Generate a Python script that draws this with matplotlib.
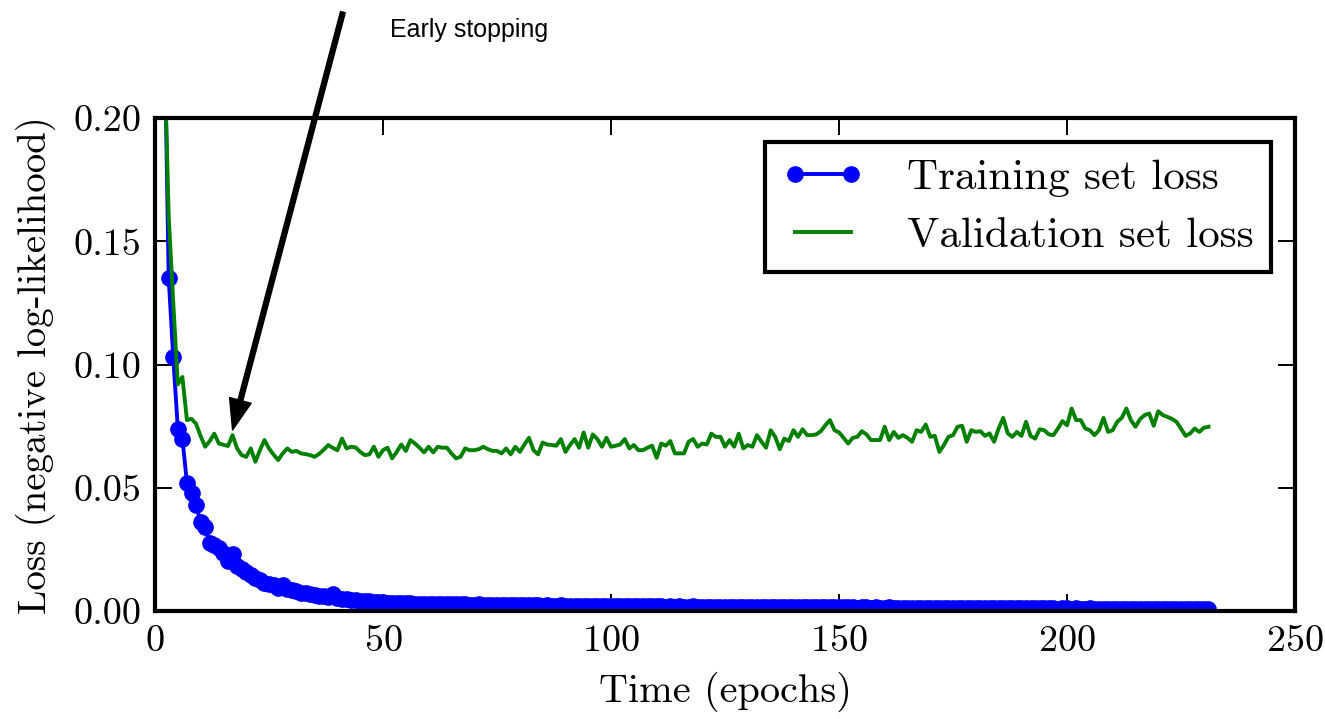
import numpy as np
import matplotlib
matplotlib.use("Agg")
import matplotlib.pyplot as plt

# --- values (one per epoch, epochs 1..231) ---
epochs = list(range(1, 232))

train_loss = [
    0.400, 0.245, 0.135, 0.103, 0.074, 0.070, 0.052, 0.048, 0.043, 0.036,
    0.034, 0.0275, 0.027, 0.0255, 0.0235, 0.0205, 0.023, 0.0185, 0.017, 0.016,
    0.0145, 0.0135, 0.0125, 0.0115, 0.011, 0.0105, 0.0095, 0.0105, 0.009, 0.0085,
    0.008, 0.0075, 0.0072, 0.007, 0.0065, 0.0062, 0.006, 0.0058, 0.0068, 0.0055,
    0.005, 0.0048, 0.0045, 0.0046, 0.0042, 0.004, 0.0042, 0.0038, 0.0036, 0.0037,
    0.0035, 0.0034, 0.0035, 0.0033, 0.0032, 0.0033, 0.0031, 0.0030, 0.0031, 0.0030,
    0.0029, 0.0030, 0.0028, 0.0028, 0.0029, 0.0027, 0.0027, 0.0028, 0.0026, 0.0026,
    0.0027, 0.0025, 0.0026, 0.0025, 0.0024, 0.0025, 0.0024, 0.0024, 0.0025, 0.0023,
    0.0024, 0.0023, 0.0023, 0.0024, 0.0022, 0.0023, 0.0022, 0.0022, 0.0023, 0.0021,
    0.0022, 0.0021, 0.0021, 0.0022, 0.0021, 0.0020, 0.0021, 0.0020, 0.0021, 0.0020,
    0.0020, 0.0020, 0.0019, 0.0020, 0.0019, 0.0020, 0.0019, 0.0019, 0.0020, 0.0019,
    0.0019, 0.0018, 0.0019, 0.0018, 0.0019, 0.0018, 0.0018, 0.0019, 0.0018, 0.0018,
    0.0017, 0.0018, 0.0018, 0.0017, 0.0018, 0.0017, 0.0017, 0.0018, 0.0017, 0.0017,
    0.0017, 0.0016, 0.0017, 0.0017, 0.0016, 0.0017, 0.0016, 0.0016, 0.0017, 0.0016,
    0.0016, 0.0016, 0.0015, 0.0016, 0.0016, 0.0015, 0.0016, 0.0015, 0.0015, 0.0016,
    0.0015, 0.0015, 0.0015, 0.0014, 0.0015, 0.0015, 0.0014, 0.0015, 0.0014, 0.0014,
    0.0015, 0.0014, 0.0014, 0.0014, 0.0013, 0.0014, 0.0014, 0.0013, 0.0014, 0.0013,
    0.0013, 0.0014, 0.0013, 0.0013, 0.0013, 0.0012, 0.0013, 0.0013, 0.0012, 0.0013,
    0.0012, 0.0012, 0.0013, 0.0012, 0.0012, 0.0012, 0.0011, 0.0012, 0.0012, 0.0011,
    0.0012, 0.0011, 0.0011, 0.0012, 0.0011, 0.0011, 0.0011, 0.0010, 0.0011, 0.0011,
    0.0010, 0.0011, 0.0010, 0.0010, 0.0011, 0.0010, 0.0010, 0.0010, 0.0009, 0.0010,
    0.0010, 0.0009, 0.0010, 0.0009, 0.0009, 0.0010, 0.0009, 0.0009, 0.0009, 0.0009,
    0.0009, 0.0008, 0.0009, 0.0009, 0.0008, 0.0009, 0.0008, 0.0008, 0.0009, 0.0008,
    0.0008,
]

valid_loss = [
    0.350, 0.230, 0.160, 0.125, 0.092, 0.095, 0.0775, 0.078, 0.076, 0.071,
    0.0667, 0.069, 0.072, 0.068, 0.0675, 0.067, 0.0714, 0.066, 0.0633, 0.0626,
    0.066, 0.0606, 0.0653, 0.0694, 0.066, 0.0635, 0.0613, 0.064, 0.066, 0.0646,
    0.065, 0.064, 0.0637, 0.0633, 0.0626, 0.0638, 0.0655, 0.0674, 0.0662, 0.0653,
    0.070, 0.066, 0.0667, 0.0664, 0.0646, 0.0633, 0.0636, 0.0667, 0.0626, 0.0653,
    0.0663, 0.062, 0.0646, 0.0676, 0.065, 0.0694, 0.068, 0.0663, 0.0644, 0.0667,
    0.0644, 0.0667, 0.0663, 0.0663, 0.064, 0.062, 0.0626, 0.066, 0.0653, 0.0653,
    0.0657, 0.0667, 0.0657, 0.065, 0.065, 0.064, 0.066, 0.0636, 0.0667, 0.0646,
    0.0676, 0.0703, 0.0653, 0.0636, 0.0684, 0.0676, 0.0674, 0.0671, 0.0698, 0.0646,
    0.0674, 0.0698, 0.0663, 0.0725, 0.0663, 0.0717, 0.0698, 0.0667, 0.0703, 0.0667,
    0.0671, 0.0676, 0.0698, 0.066, 0.0674, 0.0653, 0.0653, 0.0663, 0.0671, 0.0622,
    0.068, 0.0671, 0.069, 0.064, 0.064, 0.064, 0.0687, 0.0698, 0.0667, 0.068,
    0.0676, 0.072, 0.0707, 0.0707, 0.0667, 0.0694, 0.0667, 0.072, 0.066, 0.0674,
    0.0667, 0.0714, 0.0687, 0.0663, 0.0734, 0.0707, 0.0657, 0.070, 0.069, 0.0734,
    0.0707, 0.0738, 0.0714, 0.0714, 0.0717, 0.073, 0.0754, 0.0775, 0.0734, 0.0725,
    0.0703, 0.068, 0.0703, 0.0707, 0.073, 0.0717, 0.0694, 0.0694, 0.0694, 0.0748,
    0.0694, 0.0727, 0.0703, 0.0714, 0.0703, 0.0687, 0.0734, 0.0727, 0.0757, 0.0707,
    0.0711, 0.0646, 0.0674, 0.0707, 0.0714, 0.0748, 0.0752, 0.0687, 0.0734, 0.0727,
    0.073, 0.0711, 0.0721, 0.0687, 0.0741, 0.0784, 0.0721, 0.0707, 0.0727, 0.0711,
    0.0768, 0.0711, 0.070, 0.0738, 0.0734, 0.0717, 0.0714, 0.0741, 0.0771, 0.0754,
    0.0822, 0.0775, 0.0775, 0.0741, 0.0734, 0.0714, 0.0734, 0.0784, 0.0727, 0.0734,
    0.0768, 0.0784, 0.0822, 0.0775, 0.0748, 0.0779, 0.0795, 0.0802, 0.0752, 0.0811,
    0.0795, 0.0788, 0.078, 0.0768, 0.074, 0.0711, 0.0721, 0.0741, 0.0727, 0.0744,
    0.0748,
]

early_stop_epoch = 17
early_stop_loss = 0.0735

x_ticks = [0, 50, 100, 150, 200, 250]
y_ticks = [0.00, 0.05, 0.10, 0.15, 0.20]

# --- look: old matplotlib / LaTeX style ---
plt.rcParams['font.family'] = 'serif'
plt.rcParams['font.serif'] = ['cmr10', 'DejaVu Serif']
plt.rcParams['mathtext.fontset'] = 'cm'
plt.rcParams['axes.formatter.use_mathtext'] = True

fig = plt.figure(figsize=(13.25, 7.19), dpi=100)
ax = fig.add_axes([0.117, 0.150, 0.8604, 0.6857])

ax.plot(epochs, train_loss, 'o-', color='#0000ff', lw=2.8, ms=11,
        label='Training set loss')
ax.plot(epochs, valid_loss, '-', color='#008000', lw=2.8,
        label='Validation set loss')

ax.set_xlim(0, 250)
ax.set_ylim(0, 0.20)
ax.set_xticks(x_ticks)
ax.set_yticks(y_ticks)
ax.set_yticklabels(['%.2f' % v for v in y_ticks])
ax.tick_params(direction='in', top=True, right=True, length=12, width=1.4,
               labelsize=27.5, pad=10)
for sp in ax.spines.values():
    sp.set_linewidth(3)

ax.set_xlabel('Time (epochs)', fontsize=29, labelpad=10)
ax.set_ylabel('Loss (negative log-likelihood)', fontsize=28, labelpad=12)

leg = ax.legend(loc='upper right', fontsize=31, numpoints=2, fancybox=False,
                borderaxespad=0.55, handlelength=1.9, labelspacing=0.45,
                handletextpad=1.0, borderpad=0.4, framealpha=1)
leg.get_frame().set_edgecolor('black')
leg.get_frame().set_linewidth(3)

# arrow + note for early stopping
ax.annotate('', xy=(early_stop_epoch, early_stop_loss), xytext=(41.2, 0.243),
            arrowprops=dict(facecolor='black', edgecolor='black', width=3.5,
                            headwidth=16, headlength=22, shrink=0),
            annotation_clip=False)
ax.text(51.5, 0.2357, 'Early stopping', fontsize=18, va='center', ha='left',
        family=['Liberation Sans', 'DejaVu Sans'])

fig.savefig('out.png', dpi=100)
